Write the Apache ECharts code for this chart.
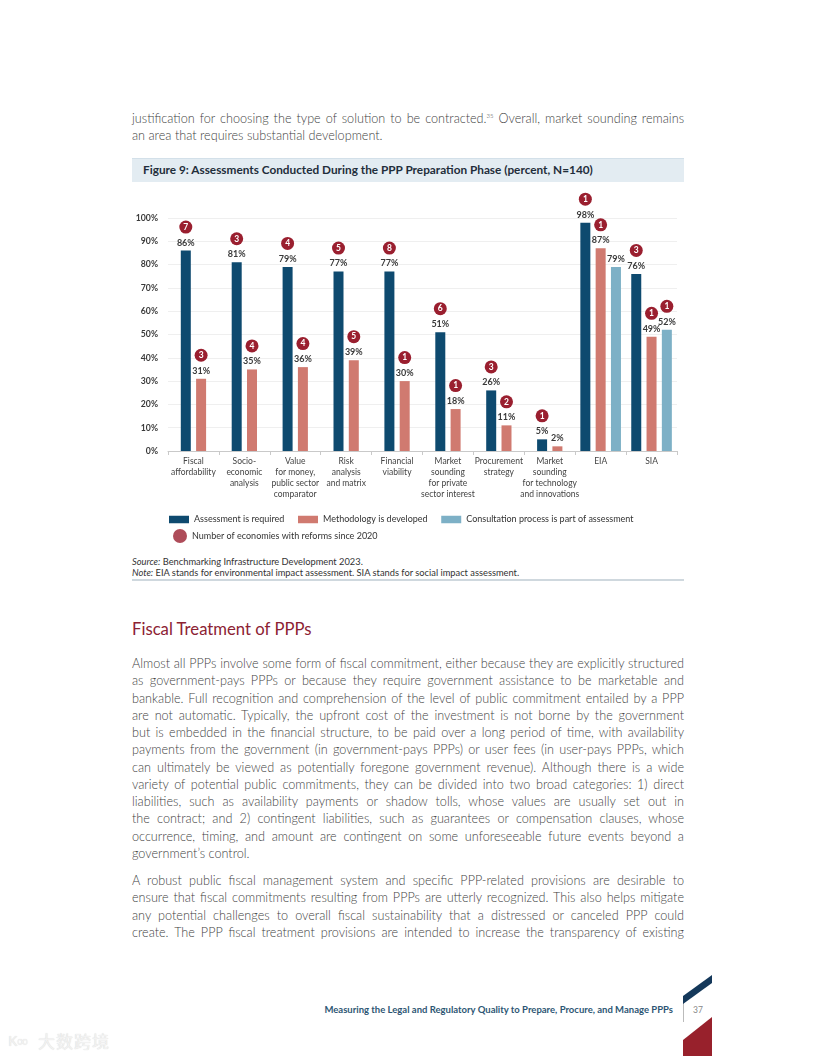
<!DOCTYPE html>
<html>
<head>
<meta charset="utf-8">
<script src="https://cdn.jsdelivr.net/npm/echarts@6/dist/echarts.min.js"></script>
<style>
  html, body { margin: 0; padding: 0; background: #fff; }
  #page { position: relative; width: 816px; height: 1056px; overflow: hidden; font-family: Lato, "Noto Sans", sans-serif; color: #555; }
  .blk { position: absolute; left: 132px; width: 552px; font-size: 12.65px; line-height: 17.25px; font-weight: 300; color: #3f3f3f; }
  .ln { height: 17.25px; text-align: justify; text-align-last: justify; white-space: nowrap; }
  .ln.last { text-align: left; text-align-last: left; }
  sup { font-size: 6px; line-height: 0; vertical-align: 5px; }
  #band { position: absolute; left: 132px; top: 158px; width: 552px; height: 23px; background: #e3ecf2; border-top: 1px solid #d3e0e9; }
  #band span { position: absolute; left: 11px; top: 3px; font-size: 11.8px; font-weight: 700; color: #1f2e3b; }
  #heading { position: absolute; left: 132px; top: 619px; font-size: 16.7px; color: #8c2233; }
  #src { position: absolute; left: 132px; top: 556px; font-size: 9.3px; line-height: 11px; color: #333; }
  #rule { position: absolute; left: 132px; top: 579px; width: 552px; height: 2px; background: #cfd8de; }
  #chart { position: absolute; left: 0; top: 0; width: 816px; height: 560px; }
  #footer { position: absolute; right: 143px; top: 1004px; font-size: 9.5px; font-weight: 700; color: #2d5674; }
  #pnum { position: absolute; left: 693px; top: 1005px; font-size: 8.5px; color: #888; }
  #wm { position: absolute; left: 38px; top: 1028px; font-family: "Noto Sans CJK SC"; font-size: 17px; color: #f2f2f2; letter-spacing: 1px; text-shadow: 0 0 1px #d0d0d0; }
  #wm2 { position: absolute; left: 8px; top: 1030px; font-family: "Noto Sans"; font-size: 15px; color: #f2f2f2; text-shadow: 0 0 1px #d0d0d0; }
</style>
</head>
<body>
<div id="page">
  <div class="blk" style="top:110px">
    <div class="ln">justification for choosing the type of solution to be contracted.<sup>35</sup> Overall, market sounding remains</div>
    <div class="ln last">an area that requires substantial development.</div>
  </div>
  <div id="band"><span>Figure 9: Assessments Conducted During the PPP Preparation Phase (percent, N=140)</span></div>
  <div id="src"><i>Source:</i> Benchmarking Infrastructure Development 2023.<br><i>Note:</i> EIA stands for environmental impact assessment. SIA stands for social impact assessment.</div>
  <div id="rule"></div>
  <div id="heading">Fiscal Treatment of PPPs</div>
  <div class="blk" style="top:655px">
    <div class="ln">Almost all PPPs involve some form of fiscal commitment, either because they are explicitly structured</div>
    <div class="ln">as government-pays PPPs or because they require government assistance to be marketable and</div>
    <div class="ln">bankable. Full recognition and comprehension of the level of public commitment entailed by a PPP</div>
    <div class="ln">are not automatic. Typically, the upfront cost of the investment is not borne by the government</div>
    <div class="ln">but is embedded in the financial structure, to be paid over a long period of time, with availability</div>
    <div class="ln">payments from the government (in government-pays PPPs) or user fees (in user-pays PPPs, which</div>
    <div class="ln">can ultimately be viewed as potentially foregone government revenue). Although there is a wide</div>
    <div class="ln">variety of potential public commitments, they can be divided into two broad categories: 1) direct</div>
    <div class="ln">liabilities, such as availability payments or shadow tolls, whose values are usually set out in</div>
    <div class="ln">the contract; and 2) contingent liabilities, such as guarantees or compensation clauses, whose</div>
    <div class="ln">occurrence, timing, and amount are contingent on some unforeseeable future events beyond a</div>
    <div class="ln last">government’s control.</div>
  </div>
  <div class="blk" style="top:872px">
    <div class="ln">A robust public fiscal management system and specific PPP-related provisions are desirable to</div>
    <div class="ln">ensure that fiscal commitments resulting from PPPs are utterly recognized. This also helps mitigate</div>
    <div class="ln">any potential challenges to overall fiscal sustainability that a distressed or canceled PPP could</div>
    <div class="ln">create. The PPP fiscal treatment provisions are intended to increase the transparency of existing</div>
  </div>
  <div id="footer">Measuring the Legal and Regulatory Quality to Prepare, Procure, and Manage PPPs</div>
  <div id="pnum">37</div>
  <svg style="position:absolute;left:0;top:0" width="816" height="1056">
    <line x1="683.5" y1="1000" x2="683.5" y2="1022" stroke="#bbb" stroke-width="1"/>
    <polygon points="683,996 712,975 712,983 683,1004" fill="#14385a"/>
    <polygon points="683,1040 712,1017 712,1056 683,1056" fill="#98212c"/>
  </svg>
  <div id="wm2">K∞</div>
  <div id="wm">大数跨境</div>
  <div id="chart"></div>
</div>
<script>
const categories = [
  'Fiscal\naffordability',
  'Socio-\neconomic\nanalysis',
  'Value\nfor money,\npublic sector\ncomparator',
  'Risk\nanalysis\nand matrix',
  'Financial\nviability',
  'Market\nsounding\nfor private\nsector interest',
  'Procurement\nstrategy',
  'Market\nsounding\nfor technology\nand innovations',
  'EIA',
  'SIA'
];
const seriesNames = ['Assessment is required', 'Methodology is developed', 'Consultation process is part of assessment'];
const reformsName = 'Number of economies with reforms since 2020';
const requiredVals     = [86, 81, 79, 77, 77, 51, 26, 5, 98, 76];
const methodologyVals  = [31, 35, 36, 39, 30, 18, 11, 2, 87, 49];
const consultationVals = [null, null, null, null, null, null, null, null, 79, 52];
const requiredReforms     = [7, 3, 4, 5, 8, 6, 3, 1, 1, 3];
const methodologyReforms  = [3, 4, 4, 5, 1, 1, 2, null, 1, 1];
const consultationReforms = [null, null, null, null, null, null, null, null, null, 1];
const yTickValues = [0, 10, 20, 30, 40, 50, 60, 70, 80, 90, 100];

const BLUE = '#0e4a6f', PINK = '#d07a70', LIGHT = '#7db0c6', RED = '#9a1f2f';
const FONT = 'Lato, "Noto Sans", sans-serif';

const hasThree = consultationVals.map(v => v != null);
const pick = (arr, three) => arr.map((v, i) => (hasThree[i] === three ? v : null));

function mkLabel(reforms) {
  return {
    show: true, position: 'top', distance: 2,
    formatter: p => {
      const r = reforms[p.dataIndex];
      const v = '{v|' + p.value + '%}';
      return r != null ? '{n|' + r + '}\n' + v : v;
    },
    rich: {
      n: { backgroundColor: RED, color: '#fff', width: 13, height: 13, borderRadius: 6.5, align: 'center',
           fontSize: 8.5, fontWeight: 'bold', lineHeight: 19, fontFamily: FONT },
      v: { fontSize: 9, fontWeight: 'bold', color: '#3a3a3a', lineHeight: 12, fontFamily: FONT }
    }
  };
}
function bar(name, color, data, reforms, axis) {
  return {
    type: 'bar', name, xAxisIndex: axis, data, barWidth: 10, barGap: '53%',
    itemStyle: { color }, label: mkLabel(reforms), emphasis: { disabled: true }, animation: false
  };
}

const chart = echarts.init(document.getElementById('chart'), null, { renderer: 'canvas' });
chart.setOption({
  animation: false,
  textStyle: { fontFamily: FONT },
  grid: { left: 168, top: 218, width: 509, height: 233 },
  legend: [
    { data: seriesNames, left: 169, top: 515, padding: 0, itemWidth: 20, itemHeight: 7.5, itemGap: 13.6, itemTextGap: 4.5,
      icon: 'rect', selectedMode: false, textStyle: { fontSize: 9, color: '#333', fontFamily: FONT } },
    { data: [{ name: reformsName, icon: 'circle' }], left: 173, top: 529, padding: 0, itemWidth: 14, itemHeight: 14, itemTextGap: 7,
      selectedMode: false, textStyle: { fontSize: 9, color: '#333', fontFamily: FONT } }
  ],
  xAxis: [
    { type: 'category', data: categories, gridIndex: 0,
      axisLine: { lineStyle: { color: '#c9c9c9' } },
      axisTick: { show: true, length: 4, lineStyle: { color: '#c9c9c9' } },
      axisLabel: { interval: 0, fontSize: 8.5, lineHeight: 10.8, color: '#444', margin: 5, fontFamily: FONT } },
    { type: 'category', data: categories, gridIndex: 0, show: false }
  ],
  yAxis: {
    type: 'value', min: 0, max: 100, interval: 10,
    axisLine: { show: false }, axisTick: { show: false },
    splitLine: { lineStyle: { color: '#efefef' } },
    axisLabel: { formatter: v => (yTickValues.includes(v) ? v + '%' : ''), fontSize: 8.7, fontWeight: 'bold', color: '#3a3a3a', margin: 10, fontFamily: FONT }
  },
  series: [
    bar(seriesNames[0], BLUE, pick(requiredVals, false), requiredReforms, 0),
    bar(seriesNames[1], PINK, pick(methodologyVals, false), methodologyReforms, 0),
    bar(seriesNames[0], BLUE, pick(requiredVals, true), requiredReforms, 1),
    bar(seriesNames[1], PINK, pick(methodologyVals, true), methodologyReforms, 1),
    bar(seriesNames[2], LIGHT, pick(consultationVals, true), consultationReforms, 1),
    { type: 'scatter', name: reformsName, data: [], itemStyle: { color: RED } }
  ]
});
</script>
</body>
</html>
